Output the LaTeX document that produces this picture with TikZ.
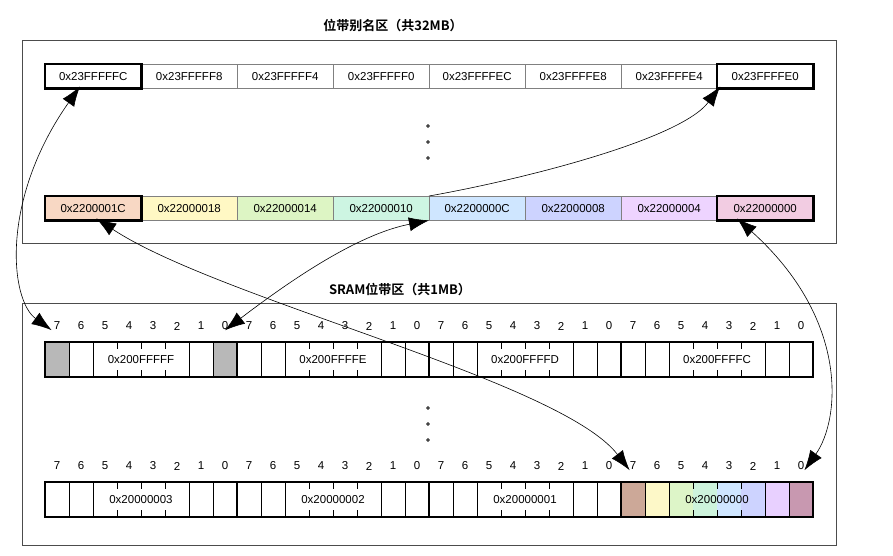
\documentclass[tikz,border=0pt]{standalone}
\usepackage{fontspec}
\setmainfont{Liberation Sans}
\newfontfamily\cjk{Noto Sans CJK SC}[BoldFont={Noto Sans CJK SC Bold}]
\usetikzlibrary{arrows.meta}
\definecolor{c7}{HTML}{F8D8C4}\definecolor{c6}{HTML}{FFF8C4}\definecolor{c5}{HTML}{DDF5C4}
\definecolor{c4}{HTML}{CDF5E2}\definecolor{c3}{HTML}{CFE6FF}\definecolor{c2}{HTML}{CDD3FF}
\definecolor{c1}{HTML}{EED4FF}\definecolor{c0}{HTML}{F2CCE2}
\definecolor{b7}{HTML}{CCA898}\definecolor{b6}{HTML}{FDF8C8}\definecolor{b5}{HTML}{DDF5C8}
\definecolor{b4}{HTML}{CDF3DC}\definecolor{b3}{HTML}{CFE6FF}\definecolor{b2}{HTML}{CDD3FF}
\definecolor{b1}{HTML}{E8D0FF}\definecolor{b0}{HTML}{C898B0}
\begin{document}
\begin{tikzpicture}[x=1pt,y=-1pt,font=\fontsize{11.5}{13}\selectfont,
  frame/.style={draw=black!70,line width=0.6pt},
  acell/.style={draw=black!50,line width=0.4pt,minimum width=96pt,minimum height=24pt,inner sep=0pt,anchor=north west},
  thick cell/.style={draw=black,line width=2.4pt},
  lnk/.style={line width=0.6pt,{Latex[length=20pt,width=14pt]}-{Latex[length=20pt,width=14pt]}},
  lnk1/.style={line width=0.6pt,-{Latex[length=20pt,width=14pt]}},
  title/.style={font=\cjk\bfseries\fontsize{13}{15}\selectfont}]
\useasboundingbox (0,0) rectangle (893,556);
\node[title] (t1) at (393,26) {位带别名区（共32MB）};
\node[title] (t2) at (400,290) {SRAM位带区（共1MB）};
\draw[frame] (22,40) rectangle (836,243);
\draw[frame] (22,303) rectangle (836,545);
\foreach \i/\t in {0/0x23FFFFFC,1/0x23FFFFF8,2/0x23FFFFF4,3/0x23FFFFF0,4/0x23FFFFEC,5/0x23FFFFE8,6/0x23FFFFE4,7/0x23FFFFE0}
  \node[acell] (a\i) at ({45+96*\i},64) {\t};
\foreach \i/\t/\c in {0/0x2200001C/c7,1/0x22000018/c6,2/0x22000014/c5,3/0x22000010/c4,4/0x2200000C/c3,5/0x22000008/c2,6/0x22000004/c1,7/0x22000000/c0}
  \node[acell,fill=\c] (r\i) at ({45+96*\i},196) {\t};
\foreach \n in {a0,a7,r0,r7} \draw[thick cell] (\n.north west) rectangle (\n.south east);
\foreach \y in {126,142,158,408,424,440} \draw[line width=0.6pt] (428,\y) circle (1.4pt);
\foreach \row/\y in {u/342,l/482}{
  \foreach \k in {0,...,3}{
    \foreach \b in {0,...,7}{
      \pgfmathtruncatemacro\bit{7-\b}
      \node[inner sep=0pt] (\row\k n\bit) at ({57+192*\k+24*\b},\y-16) {\bit};
    }
  }
}
\fill[black!28] (45,342) rectangle (69,377);
\fill[black!28] (213,342) rectangle (237,377);
\foreach \b/\c in {0/b7,1/b6,2/b5,3/b4,4/b3,5/b2,6/b1,7/b0}
  \fill[\c] ({621+24*\b},482) rectangle ({645+24*\b},517);
\foreach \y in {342,482}{
  \foreach \k in {0,...,3}{
    \foreach \d in {24,48,144,168} \draw[line width=0.5pt] ({45+192*\k+\d},\y) -- ++(0,35);
    \foreach \d in {72,96,120} {\draw[line width=0.5pt] ({45+192*\k+\d},\y) -- ++(0,7);
      \draw[line width=0.5pt] ({45+192*\k+\d},\y+35) -- ++(0,-7);}
  }
  \foreach \k in {1,2,3} \draw[line width=2.4pt] ({45+192*\k},\y) -- ++(0,35);
  \draw[line width=2.4pt] (45,\y) rectangle (813,\y+35);
}
\foreach \k/\t in {0/0x200FFFFF,1/0x200FFFFE,2/0x200FFFFD,3/0x200FFFFC}
  \node[fill=white,inner sep=1pt] (uL\k) at ({141+192*\k},359.5) {\t};
\foreach \k/\t in {0/0x20000003,1/0x20000002,2/0x20000001}
  \node[fill=white,inner sep=1pt] (lL\k) at ({141+192*\k},499.5) {\t};
\node[inner sep=1pt] (lL3) at (717,499.5) {0x20000000};
\draw[lnk] ([xshift=35pt,yshift=2pt]a0.south west) .. controls (0,200) and (10,300) .. ([xshift=-2pt]u0n7.south west);
\draw[lnk] (u0n0.south) .. controls (330,250) and (380,230) .. (r4.south west);
\draw[lnk1] (r4.north west) .. controls (520,180) and (680,140) .. ([xshift=-45pt,yshift=2pt]a7.south);
\draw[lnk] ([xshift=3pt,yshift=2pt]r0.south) .. controls (220,300) and (560,380) .. (l3n7.south west);
\draw[lnk] ([xshift=20pt,yshift=2pt]r7.south west) .. controls (850,320) and (840,420) .. (l3n0.south east);
\end{tikzpicture}
\end{document}
